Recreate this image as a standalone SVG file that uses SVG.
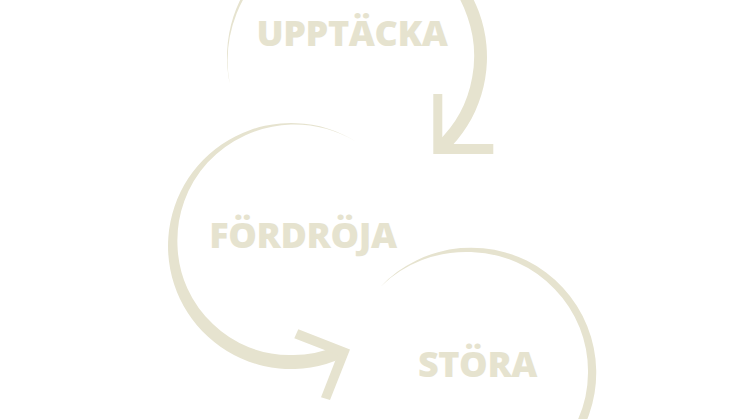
<svg xmlns="http://www.w3.org/2000/svg" width="746" height="419" viewBox="0 0 746 419">
<style>
.ink{fill:#e6e3cf;stroke:none}
.lbl{font-family:"Open Sans","Noto Sans","Liberation Sans",sans-serif;font-weight:800;font-size:36px;letter-spacing:-0.4px;fill:#e6e3cf;text-anchor:middle}
</style>
<rect width="746" height="419" fill="#ffffff"/>
<g id="connectors">
<path class="ink" d="M229.8 84 A130 130 0 1 1 445.7 152.1 L436.8 142.6 A117 117 0 0 0 472.2 77.3 A117.2 117.2 0 0 0 467.4 16.8 A119.7 119.7 0 0 0 357 -65 A125 125 0 0 0 236.7 13.2 A129 129 0 0 0 229.8 84 Z"/>
<path class="ink" d="M433.3 94 H442.3 V144 H493.3 V154 H433.3 Z"/>
<path class="ink" d="M356.2 141.7 A123 123 0 1 0 341 358.4 L335.7 346.5 A109.5 109.5 0 0 1 291 355 A109.7 109.7 0 0 1 212.9 324.1 A112 112 0 0 1 177.5 246 A115.7 115.7 0 0 1 207.6 162.6 A119.7 119.7 0 0 1 291 124.5 A122.2 122.2 0 0 1 356.2 141.7 Z"/>
<path class="ink" d="M298.3 329.3 L350 349.5 L330 400 L321 397.3 L337.5 354.9 L294.3 338.3 Z"/>
<path class="ink" d="M380.3 286.9 A125 125 0 0 1 579.3 435.5 L571.9 431.25 A116.7 116.7 0 0 0 588 373 A117.7 117.7 0 0 0 554.8 289.2 A119.7 119.7 0 0 0 471 252 A123 123 0 0 0 380.3 286.9 Z"/>
</g>
<g id="node-upptacka"><text class="lbl" x="352" y="45.5">UPPTÄCKA</text></g>
<g id="node-fordroja"><text class="lbl" x="303" y="247.5">FÖRDRÖJA</text></g>
<g id="node-stora"><text class="lbl" x="477.5" y="376.5">STÖRA</text></g>
</svg>
